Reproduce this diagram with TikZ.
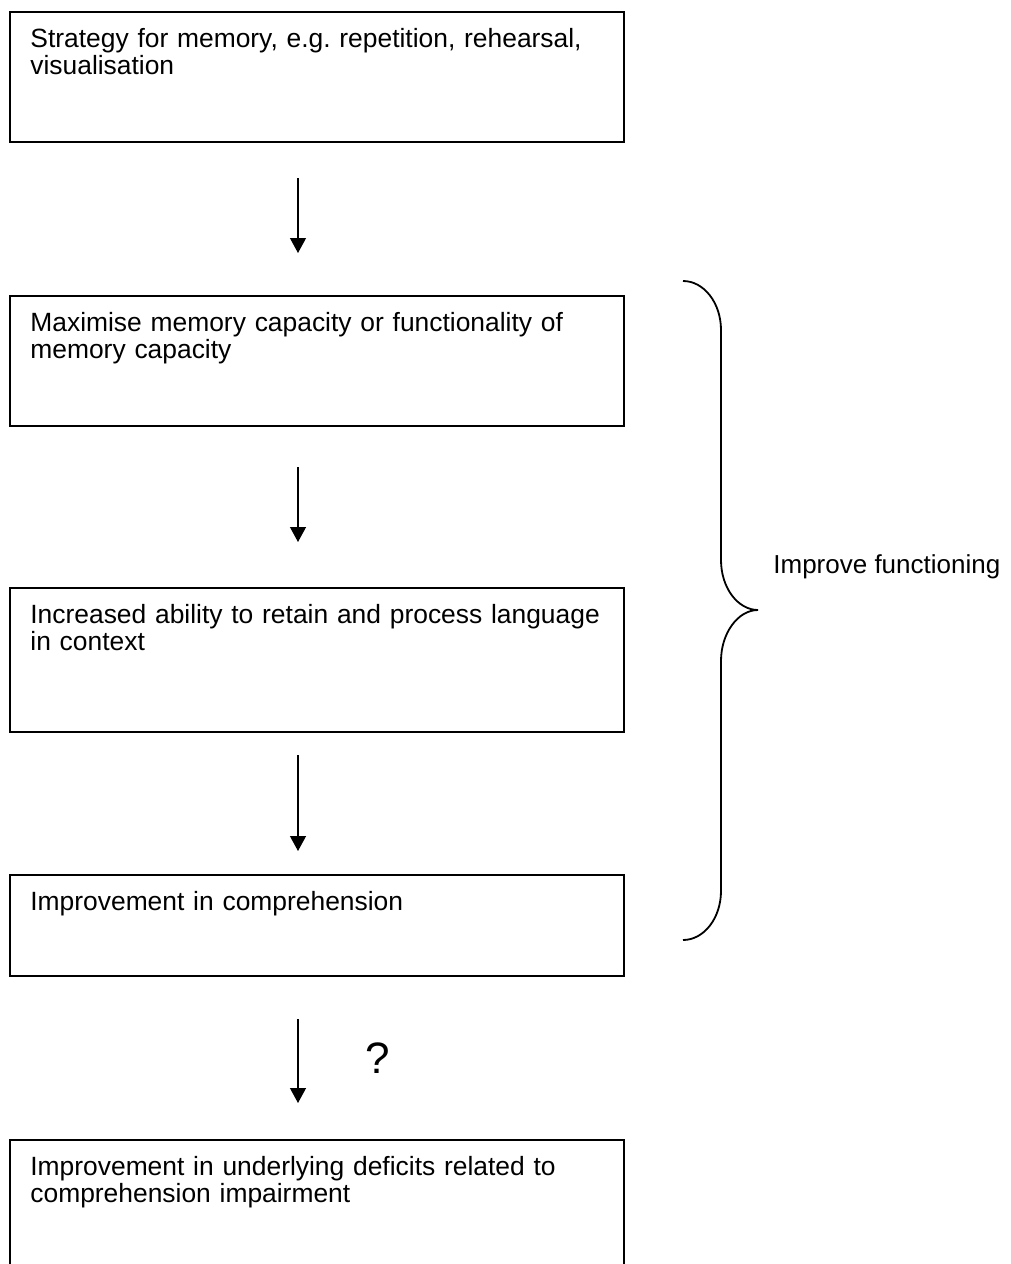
\documentclass[tikz,border=0pt]{standalone}
\usepackage{fontspec}
\setmainfont{Liberation Sans}
\usetikzlibrary{positioning,arrows.meta}
\frenchspacing

\begin{document}
\begin{tikzpicture}[x=0.5pt,y=-0.5pt,
    stage/.style={draw,line width=0.9pt,minimum width=307pt,minimum height=#1,inner sep=0pt,outer sep=0pt},
    stagetext/.style={anchor=base west,xshift=10pt,yshift=-17.5pt,inner sep=0pt,text width=330pt,align=left,font=\fontsize{13.2}{13.9}\selectfont},
    flow/.style={-{Triangle[length=7.5pt,width=8pt]},line width=0.6pt}]
    \useasboundingbox (0,0) rectangle (1011,1264);
    \node[stage=65pt,anchor=north west,label={[stagetext]north west:Strategy for memory, e.g. repetition, rehearsal,\\visualisation}](strategy) at (10,12){};
    \node[stage=65pt,label={[stagetext]north west:Maximise memory capacity or functionality of\\memory capacity}](maximise)[below=77pt of strategy]{};
    \node[stage=72pt,label={[stagetext]north west:Increased ability to retain and process language\\in context}](increased)[below=81pt of maximise]{};
    \node[stage=50.5pt,label={[stagetext]north west:Improvement in comprehension}](comprehension)[below=71.5pt of increased]{};
    \node[stage=70pt,label={[stagetext]north west:Improvement in underlying deficits related to\\comprehension impairment}](deficits)[below=82pt of comprehension]{};
    \path[flow]
    ([xshift=-9.5pt]strategy.south) edge[shorten <=18pt,shorten >=21.5pt] ([xshift=-9.5pt]maximise.north)
    ([xshift=-9.5pt]maximise.south) edge[shorten <=20.5pt,shorten >=23pt] ([xshift=-9.5pt]increased.north)
    ([xshift=-9.5pt]increased.south) edge[shorten <=11.5pt,shorten >=12pt] ([xshift=-9.5pt]comprehension.north)
    ([xshift=-9.5pt]comprehension.south) edge[shorten <=21.5pt,shorten >=18.5pt] ([xshift=-9.5pt]deficits.north);
    \node[font=\fontsize{22}{26}\selectfont](query) at (378,1058){?};
    % brace over the middle steps
    \draw[line width=0.9pt] (683,281) .. controls (704,281) and (721,303) .. (721,330) -- (721,560)
      .. controls (721,588) and (738,610) .. (758,610) coordinate (tip)
      .. controls (738,610) and (721,633) .. (721,661) -- (721,891)
      .. controls (721,918) and (704,940) .. (683,940);
    \node[anchor=base west,inner sep=0pt,font=\fontsize{13}{14}\selectfont](improve) at (773,573){Improve functioning};
\end{tikzpicture}
\end{document}
